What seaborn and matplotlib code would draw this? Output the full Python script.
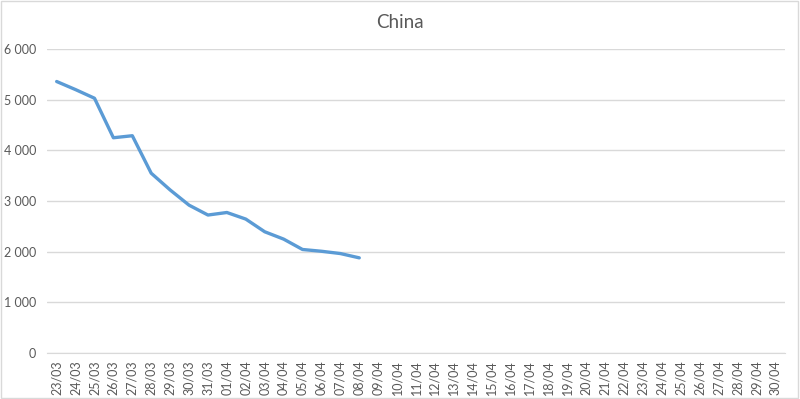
import pandas as pd
import matplotlib.pyplot as plt
import seaborn as sns
import numpy as np
from matplotlib.patches import Rectangle

sns.set_style("white")
plt.rcParams['font.family'] = ['Lato', 'DejaVu Sans']

# Tarihler (23/03 - 30/04)
dates = ['23/03', '24/03', '25/03', '26/03', '27/03', '28/03', '29/03', '30/03', '31/03'] + \
        ['%02d/04' % d for d in range(1, 31)]

# Değerler (08/04'e kadar)
values = [5360, 5200, 5030, 4250, 4290, 3550, 3220, 2920, 2725,
          2775, 2645, 2395, 2250, 2045, 2010, 1965, 1880]

df = pd.DataFrame({'pos': np.arange(len(values)), 'value': values})

text_color = '#595959'
grid_color = '#D9D9D9'

fig = plt.figure(figsize=(8, 3.99), dpi=100)
ax = fig.add_axes([0.059, 0.115, 0.922, 0.762])

sns.lineplot(data=df, x='pos', y='value', color='#5B9BD5', linewidth=2.4, ax=ax)

ax.set_xlim(-0.5, len(dates) - 0.5)
ax.set_ylim(0, 6000)
ax.set_yticks(np.arange(0, 6001, 1000))
ax.set_yticklabels(['{:,}'.format(v).replace(',', ' ') for v in range(0, 6001, 1000)],
                   color=text_color, fontsize=9)
ax.set_xticks(np.arange(len(dates)))
ax.set_xticklabels(dates, rotation=90, color=text_color, fontsize=9)
ax.set_xticks(np.arange(-0.5, len(dates)), minor=True)
ax.tick_params(axis='x', which='major', length=0, pad=5)
ax.tick_params(axis='x', which='minor', length=4, color=grid_color, width=1)
ax.tick_params(axis='y', length=0, pad=8)

ax.grid(True, axis='y', color=grid_color, linewidth=1)
ax.set_axisbelow(True)
for side in ['top', 'right', 'left']:
    ax.spines[side].set_visible(False)
ax.spines['bottom'].set_color(grid_color)
ax.spines['bottom'].set_zorder(1)
ax.set_xlabel('')
ax.set_ylabel('')

fig.text(0.5, 0.943, 'China', ha='center', va='center', fontsize=13.5, color=text_color)

# Dış çerçeve
fig.patches.append(Rectangle((0.001, 0.002), 0.997, 0.995, transform=fig.transFigure,
                             fill=False, edgecolor=grid_color, linewidth=1))

plt.savefig('out.png', dpi=100)
plt.close()
